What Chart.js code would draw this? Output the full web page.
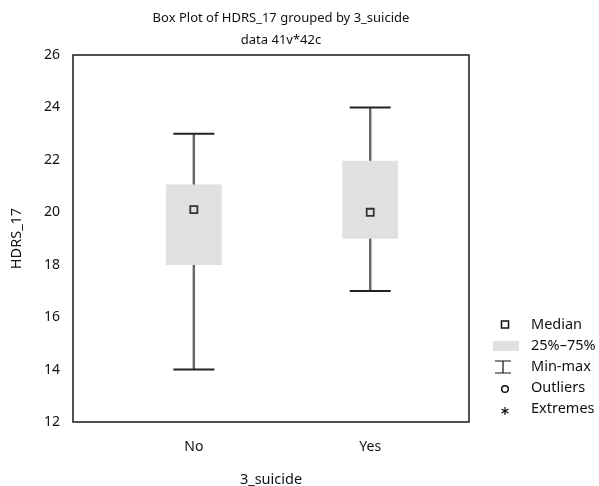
<!DOCTYPE html>
<html>
<head>
<meta charset="utf-8">
<script src="https://cdn.jsdelivr.net/npm/chart.js@4.4.1/dist/chart.umd.min.js"></script>
<style>
  html, body { margin: 0; padding: 0; background: #fff; }
  #wrap { width: 599px; height: 486px; position: relative; }
</style>
</head>
<body>
<div id="wrap"><canvas id="boxChart"></canvas></div>
<script>
// values
const categories = ['No', 'Yes'];
const catPositions = [1, 2];
const minValues = [14, 17];
const q1Values = [18, 19];
const medianValues = [20.1, 20];
const q3Values = [21.05, 21.95];
const maxValues = [23, 24];
const yTickValues = [12, 14, 16, 18, 20, 22, 24, 26];
const legendLabels = ['Median', '25%\u201375%', 'Min-max', 'Outliers', 'Extremes'];

const FONT = '"Noto Sans", "Open Sans", sans-serif';
const INK = '#111';

const toPoints = vals => vals.map((v, i) => ({ x: catPositions[i], y: v }));

// frame around the plot area
const framePlugin = {
  id: 'frame',
  afterDatasetsDraw(chart) {
    const { ctx, chartArea: a } = chart;
    ctx.save();
    ctx.strokeStyle = '#1a1a1a';
    ctx.lineWidth = 1.5;
    ctx.strokeRect(a.left, a.top, a.right - a.left, a.bottom - a.top);
    ctx.restore();
  }
};

// legend on the right hand side, statistica style
const sideLegend = {
  id: 'sideLegend',
  afterDraw(chart) {
    const { ctx } = chart;
    const mx = 505, tx = 531, y0 = 325, step = 21;
    ctx.save();
    ctx.font = '14.5px ' + FONT;
    ctx.fillStyle = INK;
    ctx.textBaseline = 'middle';
    legendLabels.forEach((label, i) => ctx.fillText(label, tx, y0 + i * step));

    ctx.strokeStyle = '#111';
    ctx.lineWidth = 1.5;
    // median square
    ctx.fillStyle = '#fff';
    ctx.fillRect(mx - 3.5, y0 - 4, 7, 7);
    ctx.strokeRect(mx - 3.5, y0 - 4, 7, 7);
    // box
    ctx.fillStyle = '#e0e0e0';
    ctx.fillRect(493, y0 + step - 5, 26, 10);
    // min-max
    let y = y0 + 2 * step;
    ctx.lineWidth = 1.2;
    ctx.beginPath();
    ctx.moveTo(495, y - 6); ctx.lineTo(511, y - 6);
    ctx.moveTo(503, y - 6); ctx.lineTo(503, y + 6);
    ctx.moveTo(495, y + 6); ctx.lineTo(511, y + 6);
    ctx.stroke();
    // outliers
    y = y0 + 3 * step;
    ctx.lineWidth = 1.5;
    ctx.beginPath();
    ctx.arc(mx, y + 1, 3.3, 0, Math.PI * 2);
    ctx.stroke();
    // extremes
    y = y0 + 4 * step + 2;
    ctx.lineWidth = 1.2;
    ctx.beginPath();
    for (let k = 0; k < 3; k++) {
      const ang = k * Math.PI / 3 + Math.PI / 2;
      ctx.moveTo(mx - 4 * Math.cos(ang), y - 4 * Math.sin(ang));
      ctx.lineTo(mx + 4 * Math.cos(ang), y + 4 * Math.sin(ang));
    }
    ctx.stroke();
    ctx.restore();
  }
};

const ctx = document.getElementById('boxChart').getContext('2d');
new Chart(ctx, {
  type: 'bar',
  data: {
    datasets: [
      {
        // min-max whisker line, behind the box
        label: 'whisker',
        data: catPositions.map((x, i) => ({ x, y: [minValues[i], maxValues[i]] })),
        backgroundColor: '#666',
        barThickness: 1.8,
        grouped: false,
        order: 3
      },
      {
        label: '25%-75%',
        data: catPositions.map((x, i) => ({ x, y: [q1Values[i], q3Values[i]] })),
        backgroundColor: '#e0e0e0',
        barThickness: 55,
        grouped: false,
        order: 2
      },
      {
        type: 'scatter',
        label: 'caps',
        data: toPoints(minValues).concat(toPoints(maxValues)),
        pointStyle: 'line',
        pointRadius: 20.5,
        borderColor: '#222',
        borderWidth: 2,
        order: 1
      },
      {
        type: 'scatter',
        label: 'Median',
        data: toPoints(medianValues),
        pointStyle: 'rect',
        pointRadius: 5,
        borderColor: '#333',
        backgroundColor: 'rgba(0,0,0,0)',
        borderWidth: 1.8,
        order: 0
      }
    ]
  },
  options: {
    responsive: true,
    maintainAspectRatio: false,
    animation: false,
    events: [],
    layout: { padding: { left: 0, right: 37, top: 0, bottom: 0 } },
    plugins: {
      legend: { display: false },
      tooltip: { enabled: false },
      title: {
        display: true,
        text: ['Box Plot of HDRS_17 grouped by 3_suicide', 'data 41v*42c'],
        color: INK,
        font: { family: FONT, size: 13, weight: 'normal', lineHeight: 22 / 13 },
        padding: { top: 7, bottom: 4 }
      }
    },
    scales: {
      x: {
        type: 'linear',
        min: 0.315,
        max: 2.56,
        offset: false,
        grid: { display: false, drawTicks: false },
        border: { display: false },
        afterBuildTicks: s => { s.ticks = catPositions.map(v => ({ value: v })); },
        afterFit: s => { s.height = 64; },
        ticks: {
          color: INK,
          padding: 17,
          font: { family: FONT, size: 14 },
          callback: v => categories[catPositions.indexOf(v)] || ''
        },
        title: {
          display: true,
          text: '3_suicide',
          color: INK,
          font: { family: FONT, size: 14.5, lineHeight: 0.85 },
          padding: { top: 0, bottom: 0 }
        }
      },
      y: {
        min: 12,
        max: 26,
        grid: { display: false, drawTicks: false },
        border: { display: false },
        afterBuildTicks: s => { s.ticks = yTickValues.map(v => ({ value: v })); },
        afterFit: s => { s.width = 73; },
        ticks: {
          color: INK,
          padding: 13,
          font: { family: FONT, size: 14 }
        },
        title: {
          display: true,
          text: 'HDRS_17',
          color: INK,
          font: { family: FONT, size: 14.5, lineHeight: 1 },
          padding: { top: 10, bottom: 0 }
        }
      },
      yRight: {
        position: 'right',
        display: true,
        grid: { display: false, drawTicks: false },
        border: { display: false },
        ticks: { display: false },
        afterFit: s => { s.width = 93; }
      }
    }
  },
  plugins: [framePlugin, sideLegend]
});
</script>
</body>
</html>
